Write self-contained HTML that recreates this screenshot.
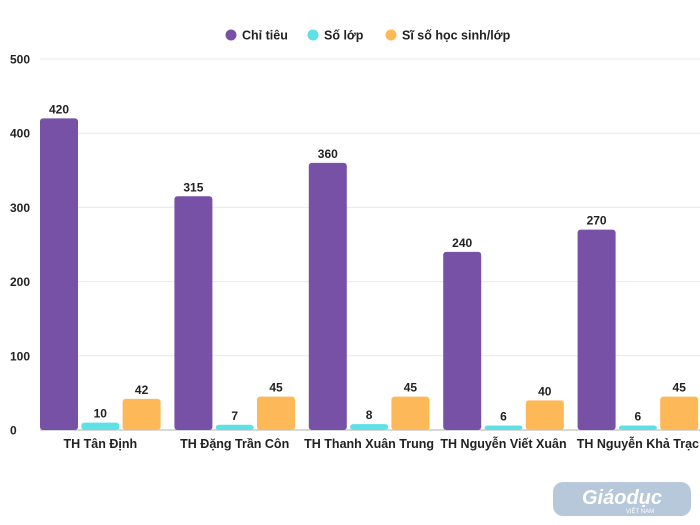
<!DOCTYPE html>
<html><head><meta charset="utf-8"><style>
body{margin:0;background:#fff;}
svg{display:block;font-family:"Liberation Sans","Noto Sans CJK SC",sans-serif;}
</style></head><body>
<svg id="chart" width="700" height="525">
<g id="legend">
<g><circle cx="231" cy="35" r="5.5" fill="#7751a6"/><text x="242" y="39.5" font-size="12.5" font-weight="bold" fill="#222">Chỉ tiêu</text></g>
<g><circle cx="313" cy="35" r="5.5" fill="#5ee0e6"/><text x="324" y="39.5" font-size="12.5" font-weight="bold" fill="#222">Số lớp</text></g>
<g><circle cx="391" cy="35" r="5.5" fill="#fdb857"/><text x="402" y="39.5" font-size="12.5" font-weight="bold" fill="#222">Sĩ số học sinh/lớp</text></g>
</g>
<g id="grid"></g><g id="bars"></g><g id="labels"></g>
<g opacity="0.5">
<rect x="553" y="482" width="138" height="34" rx="10" fill="#6f93b5"/>
<text x="622" y="504" font-size="20" font-weight="bold" fill="#fff" text-anchor="middle" font-style="italic">Giáodục</text>
<text x="640" y="513" font-size="6" fill="#fff" text-anchor="middle">VIỆT NAM</text>
</g>
</svg>
<script>
const categories=["TH Tân Định","TH Đặng Trần Côn","TH Thanh Xuân Trung","TH Nguyễn Viết Xuân","TH Nguyễn Khả Trạc"];
const chiTieu=[420,315,360,240,270];
const soLop=[10,7,8,6,6];
const siSo=[42,45,45,40,45];
const yTicks=[0,100,200,300,400,500];
const ns="http://www.w3.org/2000/svg";
const y0=430,yTop=59,vMax=500,x0=40,step=134.4,bw=38,gap=3.3;
const y=v=>y0-(v/vMax)*(y0-yTop);
function mk(t,a,p){const e=document.createElementNS(ns,t);for(const k in a)e.setAttribute(k,a[k]);p.appendChild(e);return e;}
const grid=document.getElementById('grid'),bars=document.getElementById('bars'),labels=document.getElementById('labels');
yTicks.forEach(t=>{
 const l=mk('line',{x1:x0,x2:700,y1:y(t),y2:y(t),stroke:t===0?'#d8d8d8':'#e8e8e8','stroke-width':t===0?2:1},grid);
 
 
 const tx=mk('text',{x:10,y:y(t)+4.5,'font-size':12,'font-weight':'bold',fill:'#222'},grid);
 tx.textContent=t;
 
 
});
const series=[[chiTieu,'#7751a6'],[soLop,'#5ee0e6'],[siSo,'#fdb857']];
categories.forEach((c,i)=>{
 const gx=x0+i*step;
 series.forEach(([arr,col],s)=>{
  const bx=gx+s*(bw+gap),v=arr[i];
  const r=mk('rect',{x:bx,y:y(v),width:bw,height:y0-y(v),rx:3,fill:col},bars);
  
  
  const t=mk('text',{x:bx+bw/2,y:y(v)-5,'font-size':12,'font-weight':'bold',fill:'#222','text-anchor':'middle'},labels);
  t.textContent=v;
  
  
 });
 const ct=mk('text',{x:gx+(3*bw+2*gap)/2,y:448,'font-size':12.5,'font-weight':'bold',fill:'#222','text-anchor':'middle'},labels);
 ct.textContent=c;
 
 
});
</script>
</body></html>
